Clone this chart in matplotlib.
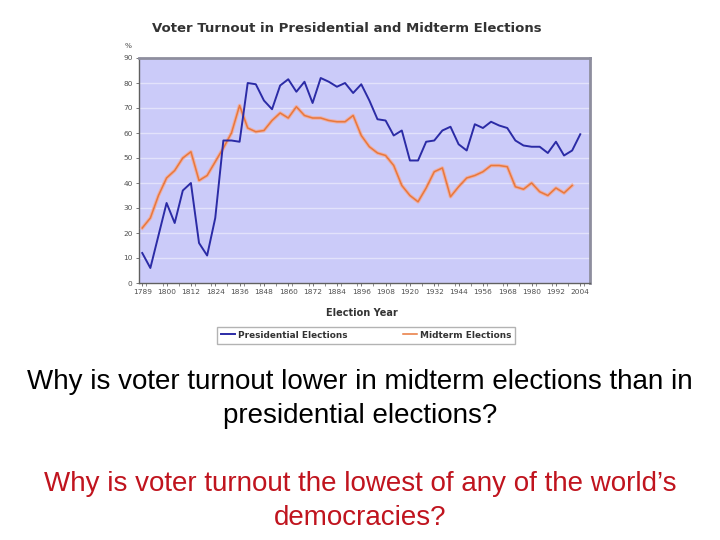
import numpy as np
import matplotlib
matplotlib.use('Agg')
import matplotlib.pyplot as plt

# presidential election years 1789..2004, one value per category
pres_years = [1789] + list(range(1792, 2005, 4))
pres_turnout = [12, 6, 19, 32, 24, 37, 40, 16, 11, 26,
                57, 57, 56.5, 80, 79.5, 73, 69.5, 79, 81.5, 76.5,
                80.5, 72, 82, 80.5, 78.5, 80, 76, 79.5, 73, 65.5,
                65, 59, 61, 49, 49, 56.5, 57, 61, 62.5, 55.5,
                53, 63.5, 62, 64.5, 63, 62, 57, 55, 54.5, 54.5,
                52, 56.5, 51, 53, 59.5]

# midterm elections 1790..2002, drawn on the same category axis
mid_turnout = [22, 26, 35, 42, 45, 50, 52.5, 41, 43, 48.5,
               54, 60, 71, 62, 60.5, 61, 65, 68, 66, 70.5,
               67, 66, 66, 65, 64.5, 64.5, 67, 59, 54.5, 52,
               51, 47, 39, 35, 32.5, 38, 44.5, 46, 34.5, 38.5,
               42, 43, 44.5, 47, 47, 46.5, 38.5, 37.5, 40, 36.5,
               35, 38, 36, 39]

y_ticks = list(range(0, 91, 10))

fig = plt.figure(figsize=(7.2, 5.4), dpi=100)
fig.patch.set_facecolor('white')

ax = fig.add_axes([139/720, 1-283/540, 451/720, 225/540])
ax.set_facecolor('#CBCBF9')

xp = np.arange(len(pres_turnout))
xm = np.arange(len(mid_turnout))
ax.plot(xm, mid_turnout, color='#F2AC9E', lw=2.6, alpha=0.9, solid_joinstyle='round', zorder=3)
ax.plot(xm, mid_turnout, color='#E8783C', lw=1.1, solid_joinstyle='round', zorder=4)
ax.plot(xp, pres_turnout, color='#2B2BA6', lw=1.4, solid_joinstyle='round', zorder=5)

ax.set_ylim(0, 90)
ax.set_xlim(-0.4, 55.2)
ax.set_yticks(y_ticks)
ax.set_yticklabels([str(v) for v in y_ticks], fontsize=5.3, color='#505050')
ax.yaxis.grid(True, color='#E2E2FB', lw=1.0)
ax.set_axisbelow(True)

ax.set_xticks(xp[::3])
ax.set_xticklabels([str(y) for y in pres_years[::3]], fontsize=5.3, color='#505050')
ax.set_xticks(xp[::2] + 0.5, minor=True)
ax.tick_params(axis='both', which='major', length=2.5, width=0.6, color='#606060', pad=2)
ax.tick_params(axis='x', which='minor', length=2, width=0.5, color='#606060')

for side in ['left', 'bottom']:
    ax.spines[side].set_color('#606060')
    ax.spines[side].set_linewidth(1.0)
for side in ['top', 'right']:
    ax.spines[side].set_color('#8E8E9E')
    ax.spines[side].set_linewidth(2.0)

fig.text(347/720, 1-28/540, 'Voter Turnout in Presidential and Midterm Elections',
         ha='center', va='center', fontsize=9.5, fontweight='bold', color='#333333')
fig.text(128/720, 1-46/540, '%', ha='center', va='center', fontsize=5.3, color='#505050')
fig.text(362/720, 1-313/540, 'Election Year', ha='center', va='center',
         fontsize=7, fontweight='bold', color='#333333')

leg = fig.legend(handles=ax.lines[1:][::-1],
                 labels=['Presidential Elections', 'Midterm Elections'],
                 loc='center', bbox_to_anchor=(366/720, 1-335/540), ncol=2,
                 fontsize=6.4, frameon=True, fancybox=False, edgecolor='#A0A0A0',
                 handlelength=1.6, columnspacing=6.2, borderpad=0.45, handletextpad=0.3,
                 borderaxespad=0)
leg.get_frame().set_linewidth(1.0)
for t in leg.get_texts():
    t.set_fontweight('bold')
    t.set_color('#333333')

slide_font = ['Liberation Sans', 'DejaVu Sans']
fig.text(0.5, 1-382/540, 'Why is voter turnout lower in midterm elections than in',
         ha='center', va='center', fontsize=20, family=slide_font, color='black')
fig.text(0.5, 1-416/540, 'presidential elections?',
         ha='center', va='center', fontsize=20, family=slide_font, color='black')
fig.text(0.5, 1-484/540, 'Why is voter turnout the lowest of any of the world\u2019s',
         ha='center', va='center', fontsize=20, family=slide_font, color='#C0141E')
fig.text(0.5, 1-518/540, 'democracies?',
         ha='center', va='center', fontsize=20, family=slide_font, color='#C0141E')

fig.savefig('out.png', dpi=100)
